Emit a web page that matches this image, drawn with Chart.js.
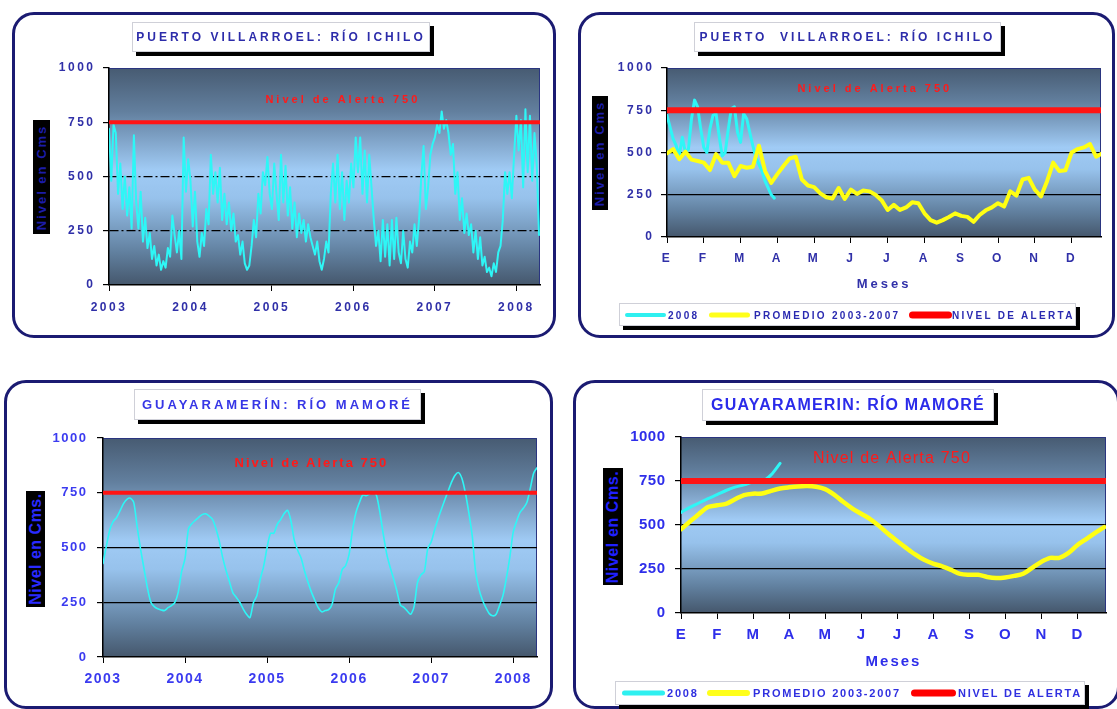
<!DOCTYPE html>
<html lang="es">
<head>
<meta charset="utf-8">
<title>Niveles de los ríos Ichilo y Mamoré</title>
<script src="https://cdn.jsdelivr.net/npm/chart.js@4.4.1/dist/chart.umd.min.js"></script>
<style>
  html, body { margin: 0; padding: 0; background: #fff; }
  #hoja { position: relative; width: 1117px; height: 709px; overflow: hidden;
          font-family: "Liberation Sans", Arial, sans-serif; }
  .marco { position: absolute; box-sizing: border-box; border: 3px solid #1b1b72;
           border-radius: 22px; background: #fff; }
  canvas { position: absolute; left: 0; top: 0; width: 1117px; height: 709px; }
  .titulo { position: absolute; box-sizing: border-box; background: #fff; border: 1px solid #cfd0d8;
            box-shadow: 4px 4px 0 #000; font-weight: bold; white-space: nowrap;
            display: flex; align-items: center; justify-content: center; }
  .eje-y { position: absolute; background: #000; font-weight: bold;
           display: flex; align-items: center; justify-content: center; overflow: visible; }
  .eje-y span { flex-shrink: 0; display: block; white-space: nowrap; transform: rotate(-90deg); }
  .leyenda { position: absolute; box-sizing: border-box; background: #fff; border: 1px solid #cfd0d8;
             box-shadow: 4px 4px 0 #000; font-weight: bold; white-space: nowrap; }
  .leyenda span { position: absolute; top: 50%; transform: translateY(-50%); }
  .leyenda .muestra { border-radius: 4px; }
</style>
</head>
<body>
<div id="hoja">
  <div class="marco" style="left:12px;top:12px;width:544px;height:326px"></div>
  <div class="marco" style="left:578px;top:12px;width:537px;height:326px"></div>
  <div class="marco" style="left:4px;top:380px;width:549px;height:329px"></div>
  <div class="marco" style="left:573px;top:380px;width:547px;height:329px"></div>

  <canvas id="ichiloAnual" width="1117" height="709"></canvas>
  <canvas id="ichiloCiclo" width="1117" height="709"></canvas>
  <canvas id="mamoreAnual" width="1117" height="709"></canvas>
  <canvas id="mamoreCiclo" width="1117" height="709"></canvas>

  <div class="titulo" style="left:132px;top:22px;width:298px;height:30px;font-size:12px;letter-spacing:3px;color:#2c2caa">PUERTO VILLARROEL: RÍO ICHILO</div>
  <div class="titulo" style="left:694px;top:22px;width:307px;height:30px;font-size:12px;letter-spacing:3px;color:#2c2caa">PUERTO&nbsp; VILLARROEL: RÍO ICHILO</div>
  <div class="titulo" style="left:134px;top:389px;width:287px;height:31px;font-size:13px;letter-spacing:3px;color:#3636e6">GUAYARAMERÍN: RÍO MAMORÉ</div>
  <div class="titulo" style="left:702px;top:389px;width:292px;height:32px;font-size:16px;letter-spacing:1.2px;color:#2b2bea">GUAYARAMERIN: RÍO MAMORÉ</div>

  <div class="eje-y" style="left:33px;top:120px;width:17px;height:114px;font-size:13px;letter-spacing:2px;color:#1c1ca8"><span>Nivel en Cms</span></div>
  <div class="eje-y" style="left:592px;top:96px;width:16px;height:114px;font-size:13px;letter-spacing:2px;color:#1c1ca8"><span>Nivel en Cms</span></div>
  <div class="eje-y" style="left:26px;top:491px;width:19px;height:116px;font-size:16px;letter-spacing:0.5px;color:#2a2aff"><span>Nivel en Cms.</span></div>
  <div class="eje-y" style="left:603px;top:468px;width:20px;height:117px;font-size:16px;letter-spacing:0.6px;color:#2020ff"><span>Nivel en Cms.</span></div>

  <div class="leyenda" style="left:619px;top:303px;width:457px;height:23px;font-size:10px;letter-spacing:2.3px;color:#2a2ab0">
    <span class="muestra" style="left:5px;width:41px;height:4px;background:#2ef0f0"></span>
    <span style="left:48px">2008</span>
    <span class="muestra" style="left:89px;width:41px;height:5px;background:#ffff1a"></span>
    <span style="left:134px">PROMEDIO 2003-2007</span>
    <span class="muestra" style="left:289px;width:43px;height:7px;background:#ff0000"></span>
    <span style="left:332px">NIVEL DE ALERTA</span>
  </div>
  <div class="leyenda" style="left:615px;top:681px;width:470px;height:24px;font-size:11px;letter-spacing:1.8px;color:#3030e0">
    <span class="muestra" style="left:6px;width:43px;height:5px;background:#2ef0f0"></span>
    <span style="left:51px">2008</span>
    <span class="muestra" style="left:91px;width:43px;height:6px;background:#ffff1a"></span>
    <span style="left:137px">PROMEDIO 2003-2007</span>
    <span class="muestra" style="left:295px;width:45px;height:7px;background:#ff0000"></span>
    <span style="left:342px">NIVEL DE ALERTA</span>
  </div>
</div>

<script>
// ---- Datos ----
const anios = [2003, 2004, 2005, 2006, 2007, 2008];
const meses = ['E', 'F', 'M', 'A', 'M', 'J', 'J', 'A', 'S', 'O', 'N', 'D'];
const marcasNivel = [0, 250, 500, 750, 1000];
const nivelAlerta = 750;
const periodoAnios = [2003, 2008.29];
const periodoMeses = [0, 11.8];

// Río Ichilo en Puerto Villarroel, ene-2003 a abr-2008, tres lecturas por mes (cm)
const ichiloInicio = 2003;
const ichiloLecturasPorAnio = 36;
const ichiloNiveles = [
  720, 480, 740, 700, 420, 560, 350, 500, 320, 450, 260, 690, 380, 260, 430, 200, 310, 170,
  240, 120, 180, 90, 140, 70, 110, 80, 170, 130, 320, 230, 150, 250, 120, 680, 430, 580,
  480, 270, 430, 200, 130, 240, 180, 350, 280, 600, 420, 520, 380, 540, 300, 420, 280, 380,
  250, 330, 200, 230, 140, 200, 100, 70, 90, 180, 300, 220, 420, 330, 520, 460, 590, 420,
  350, 560, 420, 300, 600, 380, 550, 320, 450, 260, 380, 220, 330, 240, 300, 200, 280, 220,
  180, 140, 200, 110, 70, 120, 200, 150, 420, 560, 380, 600, 350, 520, 300, 480, 380, 560,
  450, 680, 520, 680, 420, 620, 380, 600, 450, 300, 180, 250, 110, 300, 130, 280, 90, 300,
  120, 310, 150, 100, 250, 120, 80, 200, 150, 280, 180, 300, 500, 640, 350, 450, 600, 650,
  680, 740, 700, 800, 720, 760, 700, 600, 650, 420, 520, 300, 400, 240, 330, 230, 280, 150,
  250, 120, 220, 90, 130, 60, 80, 40, 100, 60, 150, 180, 300, 520, 420, 520, 400, 600,
  780, 620, 760, 450, 810, 520, 780, 480, 700, 560, 230
];

// Río Mamoré en Guayaramerín, ene-2003 a abr-2008, dos lecturas por mes (cm)
const mamoreInicio = 2003;
const mamoreLecturasPorAnio = 24;
const mamoreNiveles = [
  427, 508, 581, 619, 637, 668, 700, 720, 725, 705, 594, 492,
  403, 315, 250, 230, 220, 215, 212, 225, 235, 248, 295, 390,
  450, 585, 609, 624, 638, 650, 654, 644, 630, 588, 530, 455,
  395, 344, 293, 272, 250, 220, 195, 180, 248, 280, 355, 415,
  500, 565, 565, 607, 628, 655, 670, 620, 530, 485, 450, 390,
  340, 295, 258, 225, 206, 212, 216, 240, 310, 340, 400, 418,
  470, 580, 660, 705, 740, 736, 745, 755, 738, 660, 560, 470,
  410, 358, 300, 237, 227, 210, 195, 230, 340, 375, 390, 495,
  525, 580, 630, 675, 718, 760, 800, 830, 842, 815, 750, 660,
  555, 390, 310, 260, 225, 198, 188, 195, 235, 280, 360, 455,
  570, 620, 660, 680, 705, 770, 840, 865
];

// Ciclo anual del Ichilo desde el 1 de enero (cm)
const ichiloLecturasPorMes = 6;
const ichiloPromedio = [
  495, 520, 460, 505, 458, 450, 440, 396, 490, 440, 440, 360,
  420, 410, 416, 540, 390, 320, 372, 420, 465, 475, 340, 305,
  295, 258, 235, 228, 290, 225, 280, 255, 275, 270, 250, 218,
  160, 190, 160, 175, 205, 200, 140, 100, 85, 100, 118, 140,
  125, 119, 90, 130, 158, 175, 200, 180, 270, 245, 340, 350,
  280, 240, 330, 440, 390, 395, 500, 520, 530, 550, 475, 495
];
const ichilo2008LecturasPorMes = 12;
const ichilo2008 = [
  720, 650, 580, 540, 480, 590, 500, 520, 700, 810, 770, 640,
  530, 500, 640, 720, 730, 600, 480, 500, 640, 760, 770, 620,
  560, 730, 700, 620, 540, 470, 430, 390, 330, 290, 250, 230
];

// Ciclo anual del Mamoré: cuatro lecturas por mes desde el 1 de enero (cm)
const mamoreLecturasPorMes = 4;
const mamorePromedio = [
  476, 520, 563, 602, 612, 620, 646, 670, 678, 679, 694, 707,
  714, 719, 721, 717, 704, 673, 632, 595, 564, 534, 495, 450,
  409, 370, 333, 302, 281, 265, 245, 222, 217, 217, 205, 199,
  202, 211, 223, 257, 290, 313, 313, 340, 385, 420, 455, 488
];
const mamore2008 = [572, 600, 625, 650, 672, 696, 715, 728, 744, 747, 785, 850];

// ---- Construcción ----
const FUENTE = '"Liberation Sans", Arial, sans-serif';
const CIAN = '#2ef6f6', AMARILLO = '#ffff12', ROJO = '#ff1414';

function serie(valores, inicio, porUnidad) {
  return valores.map((v, i) => ({ x: inicio + i / porUnidad, y: v }));
}
function lineaAlerta(periodo) {
  return periodo.map(x => ({ x, y: nivelAlerta }));
}

// Fondo degradado del área de trazado, etiqueta de alerta y título del eje X
function decoracion(o) {
  return {
    id: 'decoracion',
    beforeDraw(chart) {
      const { ctx, chartArea: a } = chart;
      const g = ctx.createLinearGradient(0, a.top, 0, a.bottom);
      g.addColorStop(0, '#475b72');
      g.addColorStop(0.2, '#627f9e');
      g.addColorStop(0.47, '#a0cbf5');
      g.addColorStop(0.6, '#97c2ec');
      g.addColorStop(0.85, '#61809f');
      g.addColorStop(1, '#45576c');
      ctx.save();
      ctx.fillStyle = g;
      ctx.fillRect(a.left, a.top, a.right - a.left, a.bottom - a.top);
      ctx.strokeStyle = '#2a3580';
      ctx.lineWidth = 1;
      ctx.beginPath();
      ctx.moveTo(a.left, a.top + 0.5);
      ctx.lineTo(a.right - 0.5, a.top + 0.5);
      ctx.lineTo(a.right - 0.5, a.bottom);
      ctx.stroke();
      ctx.restore();
      ctx.letterSpacing = o.espacioMarcas + 'px';
    },
    afterDraw(chart) {
      const { ctx, chartArea: a, scales } = chart;
      ctx.save();
      ctx.textAlign = 'center';
      ctx.textBaseline = 'middle';
      ctx.letterSpacing = o.alerta.espacio + 'px';
      ctx.font = o.alerta.fuente;
      ctx.fillStyle = '#ff1a1a';
      ctx.fillText('Nivel de Alerta ' + nivelAlerta,
        scales.x.getPixelForValue(o.alerta.x), scales.y.getPixelForValue(o.alerta.y));
      if (o.tituloX) {
        ctx.letterSpacing = o.tituloX.espacio + 'px';
        ctx.font = o.tituloX.fuente;
        ctx.fillStyle = o.color;
        ctx.fillText(o.tituloX.texto, (a.left + a.right) / 2, a.bottom + o.tituloX.baja);
      }
      ctx.restore();
    }
  };
}

function grafico(id, c) {
  return new Chart(document.getElementById(id), {
    type: 'line',
    data: { datasets: c.series },
    plugins: [decoracion(c.decoracion)],
    options: {
      responsive: false,
      animation: false,
      events: [],
      layout: { padding: c.margen },
      elements: {
        point: { radius: 0 },
        line: { borderJoinStyle: 'round', borderCapStyle: 'round', fill: false }
      },
      plugins: { legend: { display: false }, tooltip: { enabled: false } },
      scales: {
        x: {
          type: 'linear',
          min: c.x.rango[0],
          max: c.x.rango[1],
          afterBuildTicks: s => { s.ticks = c.x.marcas.map(v => ({ value: v })); },
          afterFit: s => { s.height = 40; s.paddingLeft = 0; s.paddingRight = 0; },
          ticks: {
            autoSkip: false, maxRotation: 0, padding: c.x.separacion, color: c.color,
            font: { family: FUENTE, weight: 'bold', size: c.x.tam },
            callback: c.x.etiqueta
          },
          grid: { drawOnChartArea: false, drawTicks: true, tickLength: 6, tickColor: '#000', tickWidth: 1 },
          border: { color: '#000', width: 1.5 }
        },
        y: {
          min: 0,
          max: 1000,
          afterBuildTicks: s => { s.ticks = marcasNivel.map(v => ({ value: v })); },
          afterFit: s => { s.width = 70; s.paddingTop = 0; s.paddingBottom = 0; },
          ticks: {
            padding: c.y.separacion, color: c.color,
            font: { family: FUENTE, weight: 'bold', size: c.y.tam },
            callback: v => String(v)
          },
          grid: {
            color: g => (g.tick && (g.tick.value === 250 || g.tick.value === 500)) ? '#000' : 'rgba(0,0,0,0)',
            lineWidth: 1.2, tickColor: '#000', tickLength: 6, tickBorderDash: []
          },
          border: { color: '#000', width: 1.5, dash: c.y.guion }
        }
      }
    }
  });
}

// Puerto Villarroel, serie 2003-2008
grafico('ichiloAnual', {
  margen: { left: 39, top: 68, right: 577, bottom: 384 },
  color: '#3030a8',
  x: { rango: periodoAnios, marcas: anios, etiqueta: v => String(v), tam: 12, separacion: 9 },
  y: { tam: 12, separacion: 7.5, guion: [9, 3, 2, 3] },
  decoracion: {
    espacioMarcas: 2.5, color: '#3030a8',
    alerta: { x: 2005.87, y: 853, fuente: 'bold 11px ' + FUENTE, espacio: 3 }
  },
  series: [
    { data: lineaAlerta(periodoAnios), borderColor: ROJO, borderWidth: 4, order: 0 },
    { data: serie(ichiloNiveles, ichiloInicio, ichiloLecturasPorAnio), borderColor: CIAN, borderWidth: 2, order: 2 }
  ]
});

// Puerto Villarroel, ciclo anual
grafico('ichiloCiclo', {
  margen: { left: 597, top: 68, right: 16, bottom: 432 },
  color: '#3030a8',
  x: { rango: periodoMeses, marcas: meses.map((m, i) => i), etiqueta: v => meses[v], tam: 12, separacion: 8.8 },
  y: { tam: 12, separacion: 6.5, guion: [] },
  decoracion: {
    espacioMarcas: 2.5, color: '#3030a8',
    alerta: { x: 5.65, y: 876, fuente: 'bold 11px ' + FUENTE, espacio: 3 },
    tituloX: { texto: 'Meses', baja: 47, fuente: 'bold 13px ' + FUENTE, espacio: 3 }
  },
  series: [
    { data: lineaAlerta(periodoMeses), borderColor: ROJO, borderWidth: 6, order: 0 },
    { data: serie(ichiloPromedio, 0, ichiloLecturasPorMes), borderColor: AMARILLO, borderWidth: 4, order: 1 },
    { data: serie(ichilo2008, 0, ichilo2008LecturasPorMes), borderColor: CIAN, borderWidth: 3, order: 2 }
  ]
});

// Guayaramerín, serie 2003-2008
grafico('mamoreAnual', {
  margen: { left: 33, top: 438, right: 580, bottom: 12 },
  color: '#3b3bf0',
  x: { rango: periodoAnios, marcas: anios, etiqueta: v => String(v), tam: 14, separacion: 7.6 },
  y: { tam: 13, separacion: 9.5, guion: [] },
  decoracion: {
    espacioMarcas: 1.5, color: '#3b3bf0',
    alerta: { x: 2005.54, y: 886, fuente: 'bold 13px ' + FUENTE, espacio: 2 }
  },
  series: [
    { data: lineaAlerta(periodoAnios), borderColor: ROJO, borderWidth: 4, order: 0 },
    { data: serie(mamoreNiveles, mamoreInicio, mamoreLecturasPorAnio), borderColor: CIAN, borderWidth: 1.6, tension: 0.25, order: 2 }
  ]
});

// Guayaramerín, ciclo anual
grafico('mamoreCiclo', {
  margen: { left: 611, top: 437, right: 11, bottom: 56 },
  color: '#2e2eea',
  x: { rango: periodoMeses, marcas: meses.map((m, i) => i), etiqueta: v => meses[v], tam: 15, separacion: 7 },
  y: { tam: 15, separacion: 9.5, guion: [] },
  decoracion: {
    espacioMarcas: 0.5, color: '#2e2eea',
    alerta: { x: 5.86, y: 875, fuente: '16px ' + FUENTE, espacio: 1.2 },
    tituloX: { texto: 'Meses', baja: 49, fuente: 'bold 15px ' + FUENTE, espacio: 2 }
  },
  series: [
    { data: lineaAlerta(periodoMeses), borderColor: ROJO, borderWidth: 6, order: 0 },
    { data: serie(mamorePromedio, 0, mamoreLecturasPorMes), borderColor: AMARILLO, borderWidth: 4.5, tension: 0.3, order: 1 },
    { data: serie(mamore2008, 0, mamoreLecturasPorMes), borderColor: CIAN, borderWidth: 3, tension: 0.3, order: 2 }
  ]
});
</script>
</body>
</html>
